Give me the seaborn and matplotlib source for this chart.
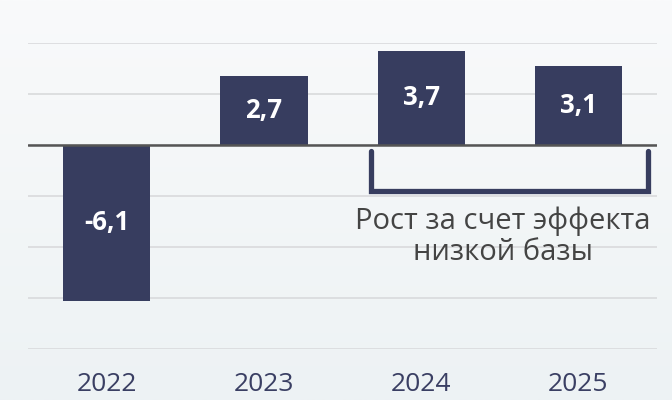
import numpy as np
import pandas as pd
import matplotlib
matplotlib.use("Agg")
import matplotlib.pyplot as plt
import seaborn as sns

years = ["2022", "2023", "2024", "2025"]
values = [-6.1, 2.7, 3.7, 3.1]
note = "Рост за счет эффекта\nнизкой базы"

navy = "#373d5f"

sns.set_style("white")
plt.rcParams["font.family"] = ["Open Sans", "DejaVu Sans"]

df = pd.DataFrame({"year": years, "value": values})

fig = plt.figure(figsize=(6.72, 4.0), dpi=100)

# soft vertical gradient behind everything
bg = fig.add_axes([0, 0, 1, 1], zorder=-10)
grad = np.linspace(0, 1, 256).reshape(-1, 1)
bg.imshow(grad, aspect="auto", extent=[0, 1, 0, 1], origin="upper",
          cmap=matplotlib.colors.LinearSegmentedColormap.from_list("bg", ["#f9fafb", "#edf2f4"]))
bg.axis("off")

ax = fig.add_axes([0.0417, 0.1275, 0.936, 0.765])
ax.patch.set_alpha(0)

sns.barplot(data=df, x="year", y="value", color=navy, saturation=1,
            width=0.555, linewidth=0, ax=ax, zorder=3)

labels = [f"{v:.1f}".replace(".", ",") for v in values]
ax.bar_label(ax.containers[0], labels=labels, label_type="center",
             color="white", fontsize=18.5, fontweight="bold")

ax.set_ylim(-8, 4)
ax.set_xlim(-0.5, 3.5)
ax.set_yticks(np.arange(-8, 5, 2))
ax.yaxis.grid(True, color="#d9dadc", linewidth=1.2, zorder=0)
ax.axhline(0, color="#555555", linewidth=1.8, zorder=4)
ax.tick_params(axis="y", left=False, labelleft=False)
ax.tick_params(axis="x", bottom=False, labelsize=19, labelcolor="#3a3f63", pad=13)
ax.set_xlabel("")
ax.set_ylabel("")
sns.despine(ax=ax, left=True, bottom=True)

# bracket under the 2024-2025 bars
ax.plot([1.68, 1.68, 3.44, 3.44], [-0.25, -1.82, -1.82, -0.25],
        color=navy, linewidth=3.8, solid_joinstyle="miter", zorder=5, clip_on=False)
ax.text(2.52, -3.6, note, ha="center", va="center", fontsize=21,
        color="#444444", linespacing=1.05, zorder=6)

fig.savefig("out.png", dpi=100)
